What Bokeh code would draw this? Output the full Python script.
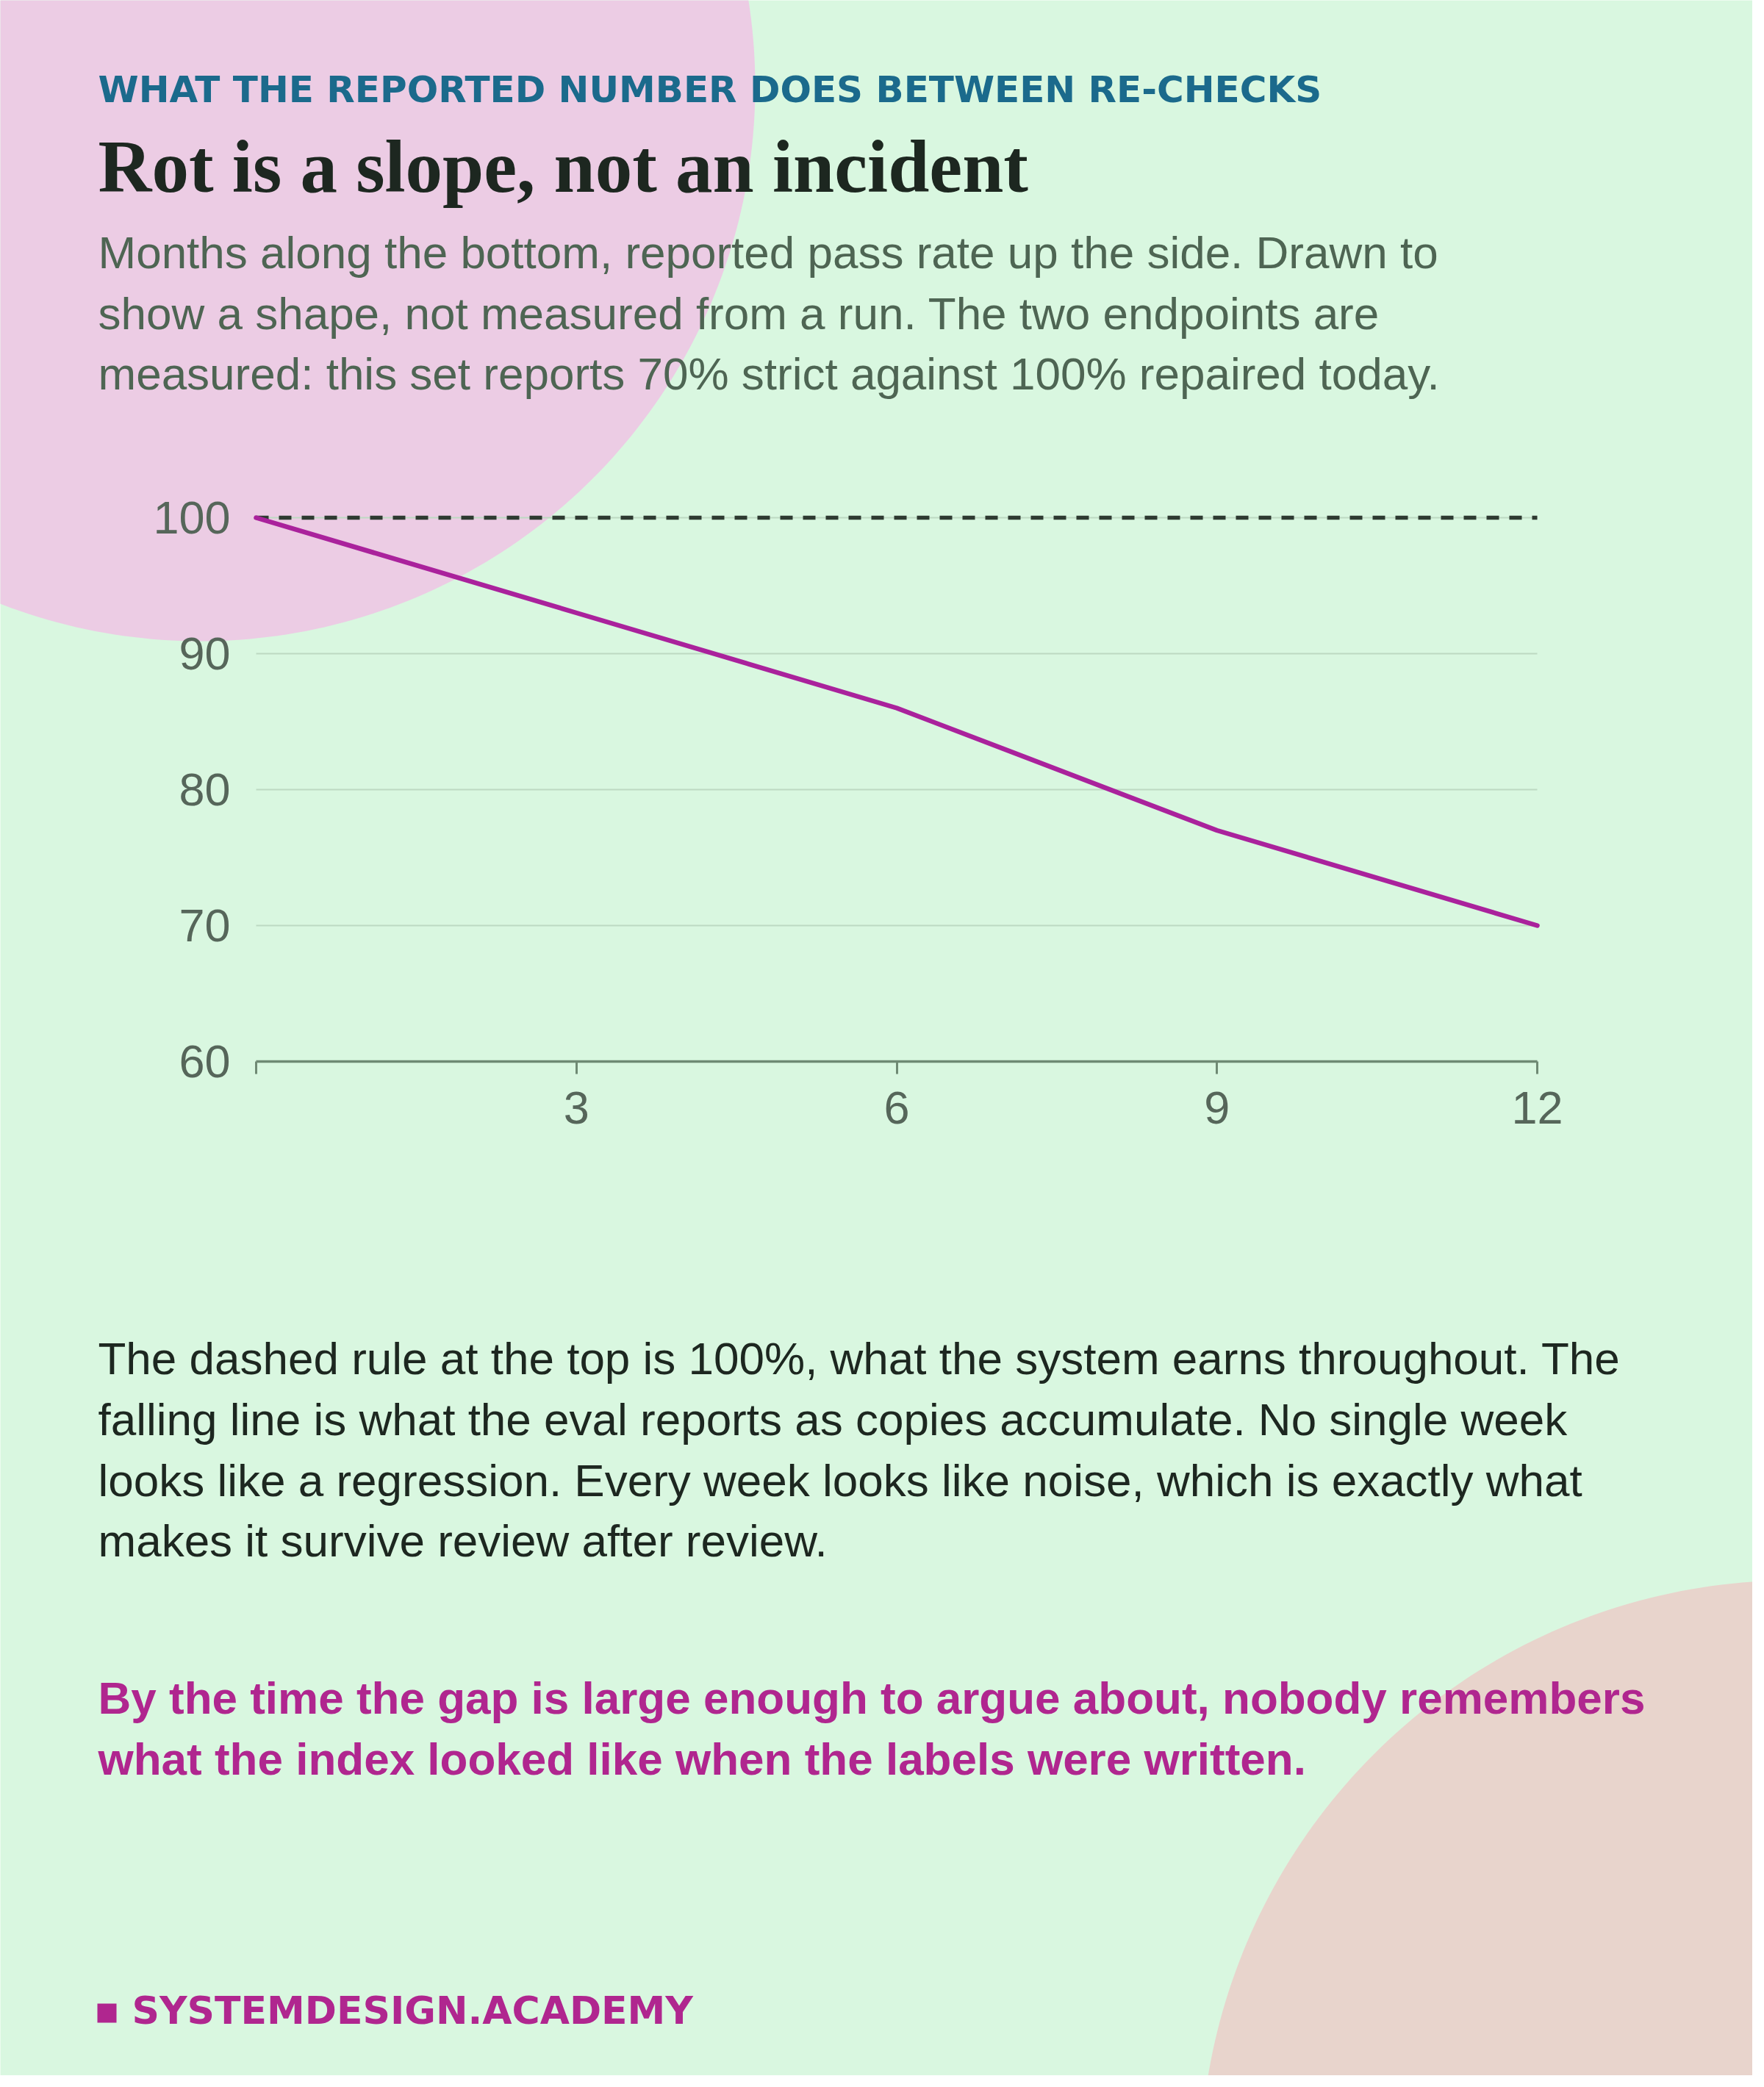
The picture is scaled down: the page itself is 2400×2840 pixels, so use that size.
import numpy as np
from bokeh.plotting import figure
from bokeh.models import Range1d, FixedTicker, Label
from bokeh.embed import file_html
from bokeh.resources import INLINE

# ---------------- data ----------------
months = [0, 3, 6, 9, 12]
reported_pass_rate = [100, 93, 86, 77, 70]
earned_rate = [100, 100]
earned_span = [0, 12]
y_ticks = [60, 70, 80, 90, 100]
x_ticks = [0, 3, 6, 9, 12]
x_tick_labels = {0: "", 3: "3", 6: "6", 9: "9", 12: "12"}

eyebrow = "WHAT THE REPORTED NUMBER DOES BETWEEN RE-CHECKS"
title = "Rot is a slope, not an incident"
subtitle_lines = [
    "Months along the bottom, reported pass rate up the side. Drawn to",
    "show a shape, not measured from a run. The two endpoints are",
    "measured: this set reports 70% strict against 100% repaired today.",
]
body_lines = [
    "The dashed rule at the top is 100%, what the system earns throughout. The",
    "falling line is what the eval reports as copies accumulate. No single week",
    "looks like a regression. Every week looks like noise, which is exactly what",
    "makes it survive review after review.",
]
pull_lines = [
    "By the time the gap is large enough to argue about, nobody remembers",
    "what the index looked like when the labels were written.",
]
footer = "SYSTEMDESIGN.ACADEMY"

# ---------------- styling ----------------
MINT = "#d9f7e0"
PINK = "#eccce4"
PEACH = "#e8d4cc"
TEAL = "#1b6a8c"
INK = "#1d2720"
SUB = "#4e6553"
MAGENTA = "#b0268f"
LINE = "#aa229c"
TICKTXT = "#56665a"
AXIS = "#6f8a74"
GRID = "#bdd9c2"
DASH = "#2e3a31"
SANS = "Liberation Sans"
SERIF = "Liberation Serif"
WIDE = "DejaVu Sans"

W, H = 2384, 2824
# chart placement on the canvas (px): month 0 / 12 and rate 60 / 100
PX_X0, PX_X12 = 348, 2091
PX_Y60, PX_Y100 = 1444, 704
XPP = (12 - 0) / (PX_X12 - PX_X0)      # data per px
YPP = (100 - 60) / (PX_Y60 - PX_Y100)


def dx(px):
    return 0 + (px - PX_X0) * XPP


def dy(py):
    return 60 + (PX_Y60 - py) * YPP


p = figure(width=W, height=H,
           x_range=Range1d(dx(0), dx(W)), y_range=Range1d(dy(H), dy(0)),
           output_backend="svg", toolbar_location=None, min_border=0,
           background_fill_color=MINT, border_fill_color=MINT,
           outline_line_color=None)
p.xgrid.visible = False
p.ygrid.visible = False


def circle_patch(cx, cy, r, color, n=360):
    t = np.linspace(0, 2 * np.pi, n, endpoint=False)
    p.patch([dx(cx + r * np.cos(a)) for a in t], [dy(cy + r * np.sin(a)) for a in t],
            fill_color=color, line_color=None)


circle_patch(272, 117, 755, PINK)
circle_patch(2440, 2958, 808, PEACH)

# grid lines across the chart width
p.segment(x0=[months[0]] * len(y_ticks), x1=[months[-1]] * len(y_ticks),
          y0=y_ticks, y1=y_ticks, line_color=GRID, line_width=2.2)

# axes drawn at fixed data locations
p.xaxis.fixed_location = y_ticks[0]
p.xaxis.bounds = (months[0], months[-1])
p.xaxis.ticker = FixedTicker(ticks=x_ticks)
p.xaxis.major_label_overrides = x_tick_labels
p.xaxis.axis_line_color = AXIS
p.xaxis.axis_line_width = 3.5
p.xaxis.major_tick_line_color = AXIS
p.xaxis.major_tick_line_width = 3
p.xaxis.major_tick_in = 0
p.xaxis.major_tick_out = 17
p.xaxis.minor_tick_line_color = None
p.xaxis.major_label_standoff = 24
p.xaxis.major_label_text_font = SANS
p.xaxis.major_label_text_font_size = "63px"
p.xaxis.major_label_text_color = TICKTXT

p.yaxis.fixed_location = months[0]
p.yaxis.bounds = (y_ticks[0], y_ticks[-1])
p.yaxis.ticker = FixedTicker(ticks=y_ticks)
p.yaxis.axis_line_color = None
p.yaxis.major_tick_line_color = None
p.yaxis.minor_tick_line_color = None
p.yaxis.major_tick_in = 0
p.yaxis.major_tick_out = 0
p.yaxis.major_label_standoff = 35
p.yaxis.major_label_text_font = SANS
p.yaxis.major_label_text_font_size = "63px"
p.yaxis.major_label_text_color = TICKTXT

# data: earned (dashed) and reported (falling line)
p.line(earned_span, earned_rate, line_color=DASH, line_width=5.5, line_dash="17 14")
p.line(months, reported_pass_rate, line_color=LINE, line_width=6.5,
       line_cap="round", line_join="round")

K = 0.35  # empirical baseline correction (fraction of font size)


def add_text(txt, px, baseline, size, color, font, style="normal"):
    p.add_layout(Label(x=dx(px), y=dy(baseline - K * size), text=txt, text_font=font,
                       text_font_size=f"{size}px", text_color=color,
                       text_font_style=style, text_baseline="alphabetic",
                       text_align="left"))


LEFT = 133
add_text(eyebrow, LEFT, 139, 50, TEAL, WIDE, "bold")
add_text(title, LEFT, 262, 101, INK, SERIF, "bold")
for i, ln in enumerate(subtitle_lines):
    add_text(ln, LEFT, 365 + i * 82.5, 62, SUB, SANS)
for i, ln in enumerate(body_lines):
    add_text(ln, LEFT, 1870 + i * 82.7, 62, INK, SANS)
for i, ln in enumerate(pull_lines):
    add_text(ln, LEFT, 2332 + i * 83, 62, MAGENTA, SANS, "bold")

p.quad(left=[dx(132)], right=[dx(158)], top=[dy(2726)], bottom=[dy(2752)],
       fill_color=MAGENTA, line_color=None)
add_text(footer, 179, 2754, 52, MAGENTA, WIDE, "bold")

open("out.html", "w").write(file_html(p, INLINE))
